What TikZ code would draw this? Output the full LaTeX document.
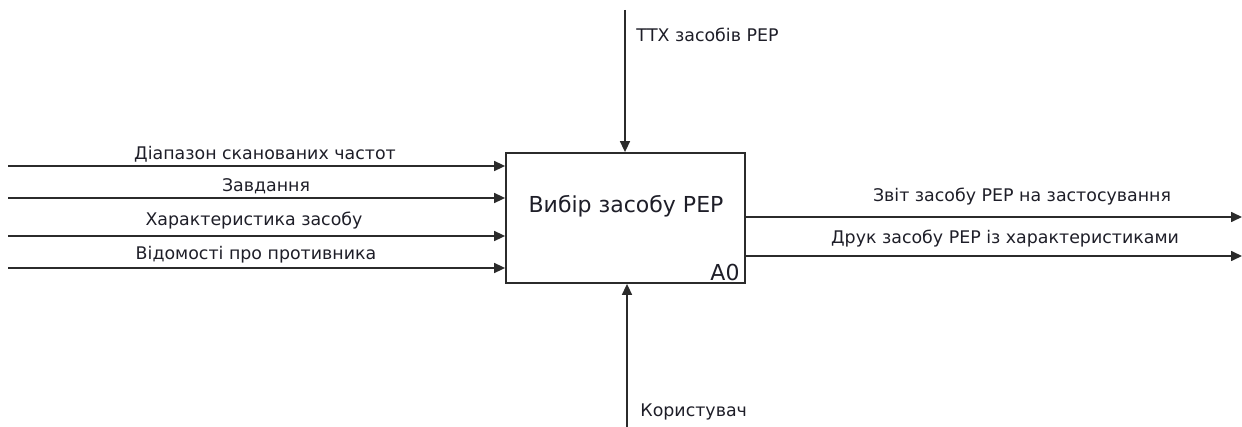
\documentclass[tikz,border=0pt]{standalone}
\usepackage{fontspec}
\setmainfont{DejaVu Sans}
\usepackage{tikz}
\usetikzlibrary{arrows.meta,positioning,calc}
\definecolor{idfink} {HTML}{2B2B2B}
\definecolor{idftext}{HTML}{1E1E28}
\tikzset{
  idfbox/.style={draw=idfink, fill=white, line width=0.9pt, minimum width=119.5pt,
                 minimum height=65pt, inner sep=0pt},
  idfedge/.style={-{Triangle[length=5.5pt,width=5pt]}, draw=idfink, line width=0.8pt},
  idflabel/.style={font=\fontsize{8.7}{10}\selectfont, text=idftext, inner sep=1pt},
  idftitle/.style={font=\fontsize{11}{13}\selectfont, text=idftext, inner sep=0pt},
}

\begin{document}
\begin{tikzpicture}[x=0.5pt,y=-0.5pt]
  \useasboundingbox (0,0) rectangle (1242,427);
  % activity box
  \node[idfbox] (a0) at (625.5,218) {};
  \node[idftitle] (a0title) at (626,206) {Вибір засобу РЕР};
  \node[idftitle,anchor=south east] (a0num) at ($(a0.south east)+(-6,-3)$) {А0};
  % inputs
  \coordinate (in1) at (8,166);
  \coordinate (in2) at (8,198);
  \coordinate (in3) at (8,236);
  \coordinate (in4) at (8,268);
  \draw[idfedge] (in1) -- (in1 -| a0.west);
  \draw[idfedge] (in2) -- (in2 -| a0.west);
  \draw[idfedge] (in3) -- (in3 -| a0.west);
  \draw[idfedge] (in4) -- (in4 -| a0.west);
  \node[idflabel] (l1) at (265,154) {Діапазон сканованих частот};
  \node[idflabel] (l2) at (266,186) {Завдання};
  \node[idflabel] (l3) at (254,221) {Характеристика засобу};
  \node[idflabel] (l4) at (256,255) {Відомості про противника};
  % outputs
  \coordinate (out1) at (1242,217);
  \coordinate (out2) at (1242,256);
  \draw[idfedge] (out1 -| a0.east) -- (out1);
  \draw[idfedge] (out2 -| a0.east) -- (out2);
  \node[idflabel] (o1) at (1022,197) {Звіт засобу РЕР на застосування};
  \node[idflabel] (o2) at (1005,239) {Друк засобу РЕР із характеристиками};
  % control and mechanism
  \coordinate (ctl) at (625,10);
  \coordinate (mech) at (627,427);
  \draw[idfedge] (ctl) -- (ctl |- a0.north);
  \draw[idfedge] (mech) -- (mech |- a0.south);
  \node[idflabel,anchor=west] (c1) at (634,35) {ТТХ засобів РЕР};
  \node[idflabel,anchor=west] (m1) at (638,412) {Користувач};
\end{tikzpicture}
\end{document}
